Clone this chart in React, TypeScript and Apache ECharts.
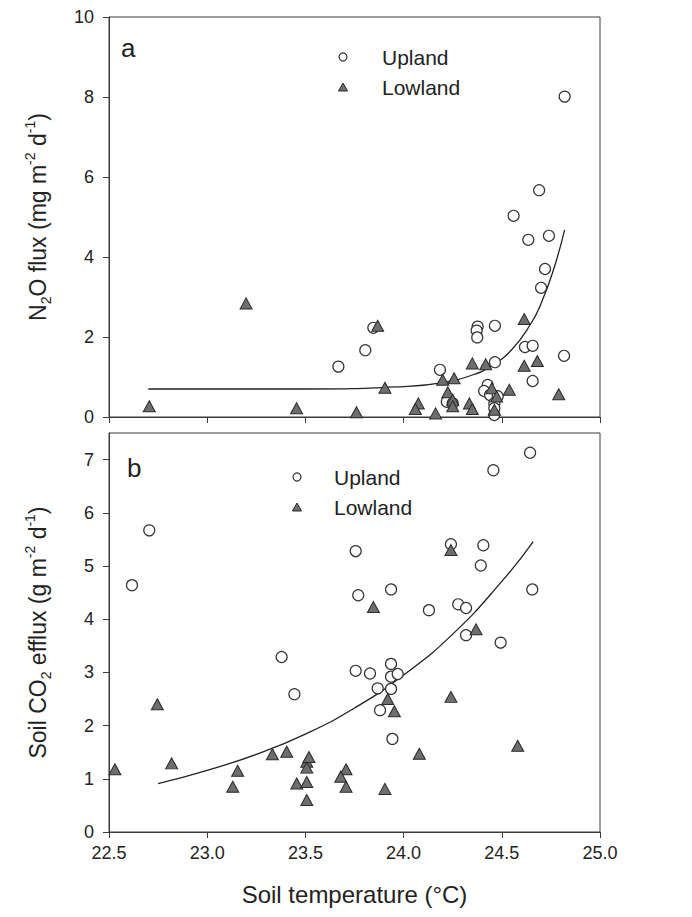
import React, { useEffect, useRef } from "react";
import * as echarts from "echarts";

// ---- Data ----
// Panel a: N2O flux (mg m-2 d-1) vs soil temperature (°C)
const uplandTempA = [24.82, 24.69, 24.56, 24.635, 24.74, 24.72, 24.70, 23.846, 24.377, 24.372, 24.375, 24.465, 23.805, 23.668, 24.618, 24.657, 24.817, 24.465, 24.185, 24.657, 24.428, 24.41, 24.44, 24.22, 24.479, 24.462, 24.462, 24.462, 24.25];
const uplandN2O = [8.01, 5.67, 5.03, 4.43, 4.53, 3.70, 3.23, 2.23, 2.26, 2.16, 1.99, 2.28, 1.67, 1.26, 1.75, 1.78, 1.53, 1.37, 1.18, 0.90, 0.80, 0.65, 0.55, 0.38, 0.52, 0.34, 0.22, 0.05, 0.34];
const lowlandTempA = [23.198, 22.705, 23.455, 23.76, 23.868, 23.905, 24.075, 24.06, 24.163, 24.199, 24.257, 24.225, 24.25, 24.25, 24.35, 24.418, 24.335, 24.35, 24.449, 24.474, 24.462, 24.538, 24.614, 24.614, 24.681, 24.79];
const lowlandN2O = [2.84, 0.27, 0.22, 0.12, 2.28, 0.73, 0.34, 0.20, 0.09, 0.93, 0.97, 0.62, 0.43, 0.27, 1.34, 1.32, 0.34, 0.20, 0.72, 0.51, 0.18, 0.68, 2.45, 1.28, 1.40, 0.57];
// fitted curve, points
const fitTempA = [22.7, 23.5, 24.0, 24.2, 24.35, 24.45, 24.55, 24.65, 24.7, 24.76, 24.82];
const fitN2O = [0.70, 0.70, 0.76, 0.86, 1.05, 1.29, 1.68, 2.35, 2.84, 3.63, 4.68];

// Panel b: soil CO2 efflux (g m-2 d-1) vs soil temperature (°C)
const uplandTempB = [24.644, 24.457, 22.705, 22.617, 23.756, 24.241, 24.406, 24.393, 23.936, 23.769, 24.655, 24.129, 24.278, 24.318, 24.318, 24.494, 23.379, 23.756, 23.829, 23.936, 23.936, 23.97, 23.868, 23.936, 23.444, 23.88, 23.943];
const uplandCO2 = [7.13, 6.80, 5.67, 4.64, 5.28, 5.41, 5.39, 5.01, 4.56, 4.45, 4.56, 4.17, 4.28, 4.21, 3.70, 3.56, 3.29, 3.03, 2.98, 3.16, 2.92, 2.97, 2.70, 2.69, 2.59, 2.29, 1.75];
const lowlandTempB = [24.241, 23.846, 24.369, 24.241, 23.919, 23.953, 22.746, 24.581, 24.08, 22.53, 22.819, 23.155, 23.13, 23.332, 23.405, 23.456, 23.507, 23.518, 23.507, 23.507, 23.507, 23.707, 23.68, 23.707, 23.905];
const lowlandCO2 = [5.30, 4.23, 3.81, 2.54, 2.50, 2.27, 2.40, 1.62, 1.47, 1.18, 1.29, 1.15, 0.85, 1.46, 1.51, 0.91, 1.32, 1.41, 1.21, 0.94, 0.60, 1.18, 1.04, 0.85, 0.81];
const fitTempB = [22.75, 23.0, 23.25, 23.5, 23.75, 24.0, 24.25, 24.5, 24.66];
const fitCO2 = [0.91, 1.16, 1.46, 1.84, 2.33, 2.95, 3.72, 4.71, 5.46];

const xTicks = [22.5, 23.0, 23.5, 24.0, 24.5, 25.0];
const seriesNames = ["Upland", "Lowland"];

const zip = (xs: number[], ys: number[]) => xs.map((x, i) => [x, ys[i]]);

const FONT = "'Liberation Sans', Arial, sans-serif";
const INK = "#222";
const AXIS = "#3a3a3a";
const TRI_FILL = "#6e6e6e";

export default function App() {
  const ref = useRef<HTMLDivElement>(null);

  useEffect(() => {
    if (!ref.current) return;
    const chart = echarts.init(ref.current, undefined, { renderer: "svg" });

    const upStyle = { color: "#ffffff", borderColor: "#333", borderWidth: 1.2, opacity: 1 };
    const lowStyle = { color: TRI_FILL, borderColor: "#2a2a2a", borderWidth: 1, opacity: 1 };

    const xAxisBase = (gridIndex: number, showLabels: boolean) => ({
      type: "value",
      gridIndex,
      min: xTicks[0],
      max: xTicks[xTicks.length - 1],
      interval: 0.5,
      axisLine: { show: true, lineStyle: { color: AXIS, width: 1 } },
      axisTick: { show: true, inside: false, length: 6, lineStyle: { color: AXIS } },
      splitLine: { show: false },
      axisLabel: {
        show: showLabels,
        color: INK,
        fontFamily: FONT,
        fontSize: 18,
        margin: 12,
        formatter: (v: number) => v.toFixed(1),
      },
    });

    const titleRich = {
      n: { fontSize: 23, fontFamily: FONT, color: INK, lineHeight: 30 },
      sub: { fontSize: 14, fontFamily: FONT, color: INK, lineHeight: 30, verticalAlign: "bottom" },
      sup: { fontSize: 14, fontFamily: FONT, color: INK, lineHeight: 30, verticalAlign: "top" },
    };

    const legendGraphics = (cx: number, cy: number, tx: number) => [
      { type: "circle", shape: { cx, cy, r: 4 }, style: { fill: "#fff", stroke: "#333", lineWidth: 1.2 } },
      { type: "text", x: tx, y: cy, style: { text: seriesNames[0], font: `21px ${FONT}`, fill: INK, verticalAlign: "middle" } },
      { type: "polygon", shape: { points: [[cx, cy + 26], [cx - 4.5, cy + 34], [cx + 4.5, cy + 34]] }, style: { fill: TRI_FILL, stroke: "#2a2a2a", lineWidth: 1 } },
      { type: "text", x: tx, y: cy + 30, style: { text: seriesNames[1], font: `21px ${FONT}`, fill: INK, verticalAlign: "middle" } },
    ];

    chart.setOption({
      animation: false,
      backgroundColor: "#ffffff",
      grid: [
        { left: 109, top: 17, width: 491, height: 400, show: true, borderColor: AXIS, borderWidth: 1, backgroundColor: "transparent" },
        { left: 109, top: 433, width: 491, height: 399, show: true, borderColor: AXIS, borderWidth: 1, backgroundColor: "transparent" },
      ],
      xAxis: [
        xAxisBase(0, false),
        {
          ...xAxisBase(1, true),
          name: "Soil temperature (°C)",
          nameLocation: "middle",
          nameGap: 50,
          nameTextStyle: { fontSize: 24, fontFamily: FONT, color: INK },
        },
      ],
      yAxis: [
        {
          type: "value",
          gridIndex: 0,
          min: 0,
          max: 10,
          interval: 2,
          axisLine: { show: true, lineStyle: { color: AXIS } },
          axisTick: { show: true, inside: false, length: 6, lineStyle: { color: AXIS } },
          splitLine: { show: false },
          axisLabel: { color: INK, fontFamily: FONT, fontSize: 18, margin: 15 },
          name: "{n|N}{sub|2}{n|O flux (mg m}{sup|-2}{n| d}{sup|-1}{n|)}",
          nameLocation: "middle",
          nameRotate: 90,
          nameGap: 56,
          nameTextStyle: { rich: titleRich },
        },
        {
          type: "value",
          gridIndex: 1,
          min: 0,
          max: 7.5,
          interval: 1,
          axisLine: { show: true, lineStyle: { color: AXIS } },
          axisTick: { show: true, inside: false, length: 6, lineStyle: { color: AXIS } },
          splitLine: { show: false },
          axisLabel: { color: INK, fontFamily: FONT, fontSize: 18, margin: 15, showMaxLabel: false },
          name: "{n|Soil CO}{sub|2}{n| efflux (g m}{sup|-2}{n| d}{sup|-1}{n|)}",
          nameLocation: "middle",
          nameRotate: 90,
          nameGap: 56,
          nameTextStyle: { rich: titleRich },
        },
      ],
      series: [
        {
          type: "line",
          name: "fitA",
          xAxisIndex: 0,
          yAxisIndex: 0,
          data: zip(fitTempA, fitN2O),
          smooth: true,
          showSymbol: false,
          symbol: "none",
          lineStyle: { color: "#222", width: 1.3 },
          z: 1,
        },
        {
          type: "scatter",
          name: seriesNames[1],
          xAxisIndex: 0,
          yAxisIndex: 0,
          data: zip(lowlandTempA, lowlandN2O),
          symbol: "triangle",
          symbolSize: [12, 11],
          itemStyle: lowStyle,
          z: 3,
        },
        {
          type: "scatter",
          name: seriesNames[0],
          xAxisIndex: 0,
          yAxisIndex: 0,
          data: zip(uplandTempA, uplandN2O),
          symbol: "circle",
          symbolSize: 11,
          itemStyle: upStyle,
          z: 2,
        },
        {
          type: "line",
          name: "fitB",
          xAxisIndex: 1,
          yAxisIndex: 1,
          data: zip(fitTempB, fitCO2),
          smooth: true,
          showSymbol: false,
          symbol: "none",
          lineStyle: { color: "#222", width: 1.3 },
          z: 1,
        },
        {
          type: "scatter",
          name: seriesNames[1],
          xAxisIndex: 1,
          yAxisIndex: 1,
          data: zip(lowlandTempB, lowlandCO2),
          symbol: "triangle",
          symbolSize: [12, 11],
          itemStyle: lowStyle,
          z: 3,
        },
        {
          type: "scatter",
          name: seriesNames[0],
          xAxisIndex: 1,
          yAxisIndex: 1,
          data: zip(uplandTempB, uplandCO2),
          symbol: "circle",
          symbolSize: 11,
          itemStyle: upStyle,
          z: 2,
        },
      ],
      graphic: [
        { type: "text", x: 121, y: 48, style: { text: "a", font: `26px ${FONT}`, fill: INK, verticalAlign: "middle" } },
        { type: "text", x: 127, y: 468, style: { text: "b", font: `26px ${FONT}`, fill: INK, verticalAlign: "middle" } },
        ...legendGraphics(343, 57, 382),
        ...legendGraphics(297, 477, 334),
      ],
    });

    return () => chart.dispose();
  }, []);

  return <div ref={ref} style={{ width: 692, height: 917, margin: -8 }} />;
}
